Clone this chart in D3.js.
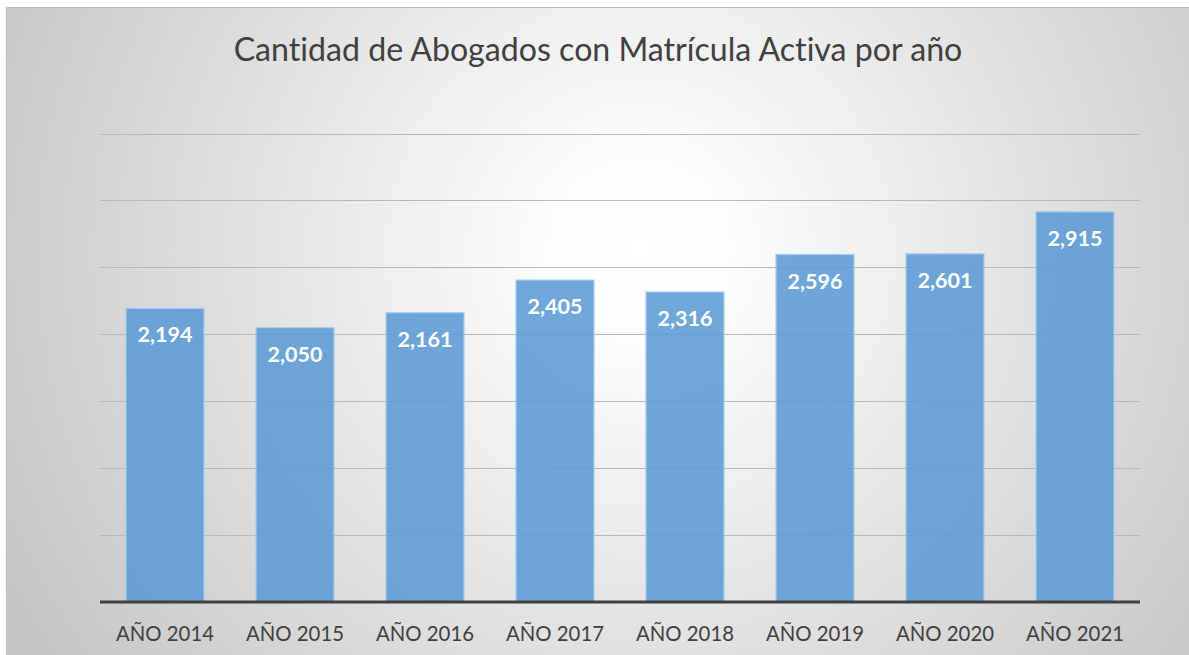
<!DOCTYPE html>
<html>
<head>
<meta charset="utf-8">
<script src="https://cdn.jsdelivr.net/npm/d3@7"></script>
<style>
  html, body { margin: 0; padding: 0; background: #ffffff; }
  svg { display: block; }
  text { font-variant-ligatures: none; font-feature-settings: "liga" 0, "clig" 0; }
</style>
</head>
<body>
<svg id="chart" width="1189" height="655"></svg>
<script>
const title = "Cantidad de Abogados con Matrícula Activa por año";
const categories = ["AÑO 2014", "AÑO 2015", "AÑO 2016", "AÑO 2017", "AÑO 2018", "AÑO 2019", "AÑO 2020", "AÑO 2021"];
const values = [2194, 2050, 2161, 2405, 2316, 2596, 2601, 2915];
const yTicks = [0, 500, 1000, 1500, 2000, 2500, 3000, 3500];

const W = 1189, H = 655;
const svg = d3.select("#chart");
const FONT = "Lato, 'Open Sans', sans-serif";

// background gradient
const defs = svg.append("defs");
const grad = defs.append("radialGradient")
  .attr("id", "bg").attr("gradientUnits", "userSpaceOnUse")
  .attr("cx", 640).attr("cy", 250).attr("r", 720);
grad.append("stop").attr("offset", "0").attr("stop-color", "#ffffff");
grad.append("stop").attr("offset", "0.12").attr("stop-color", "#fdfdfd");
grad.append("stop").attr("offset", "1").attr("stop-color", "#c5c5c5");

svg.append("rect").attr("x", 6).attr("y", 7).attr("width", W - 6).attr("height", H - 7)
  .attr("fill", "url(#bg)");
svg.append("path").attr("d", `M6.5,${H} V7.5 H${W}`).attr("fill", "none")
  .attr("stroke", "#bdbdbd").attr("stroke-width", 1.2);

const x = d3.scaleBand().domain(categories).range([100, 1140]).paddingInner(0.4).paddingOuter(0.2);
const y = d3.scaleLinear().domain([0, 3500]).range([602, 133.5]);

// gridlines
svg.append("g").selectAll("line").data(yTicks.filter(d => d > 0)).join("line")
  .attr("x1", 100).attr("x2", 1140)
  .attr("y1", d => Math.round(y(d)) + 0.5).attr("y2", d => Math.round(y(d)) + 0.5)
  .attr("stroke", "#b8b8b8").attr("stroke-width", 1.2);

// bars
svg.append("g").selectAll("rect").data(values).join("rect")
  .attr("x", (d, i) => x(categories[i]))
  .attr("width", x.bandwidth())
  .attr("y", d => y(d))
  .attr("height", d => y(0) - y(d))
  .attr("fill", "#5b9bd5").attr("fill-opacity", 0.88)
  .attr("stroke", "#a8cbec").attr("stroke-width", 1.2);

// baseline axis
const xAxis = d3.axisBottom(x).tickSize(0).tickPadding(0);
const ax = svg.append("g").attr("transform", `translate(0,${y(0)})`).call(xAxis);
ax.select(".domain").attr("d", "M100,0H1140").attr("stroke", "#404040").attr("stroke-width", 3);
ax.selectAll(".tick text")
  .attr("y", 39).attr("dy", 0)
  .attr("fill", "#404040")
  .style("font-family", FONT).style("font-size", "20px");

function fitWidth(sel, target) {
  const n = sel.node();
  const fs = parseFloat(n.style.fontSize);
  const w = n.getComputedTextLength();
  if (w > 0) sel.style("font-size", (fs * target / w).toFixed(2) + "px");
}
{
  const n = ax.select(".tick text").node();
  const fs = parseFloat(n.style.fontSize);
  const w = n.getComputedTextLength();
  ax.selectAll(".tick text").style("font-size", (fs * 98 / w).toFixed(2) + "px");
}

// data labels
const labels = svg.append("g").selectAll("text").data(values).join("text")
  .attr("x", (d, i) => x(categories[i]) + x.bandwidth() / 2)
  .attr("y", d => y(d) + 34)
  .attr("text-anchor", "middle")
  .attr("fill", "#ffffff")
  .style("font-family", FONT).style("font-weight", "700").style("font-size", "20px")
  .text(d => d3.format(",")(d));
{
  const n = labels.node();
  const fs = parseFloat(n.style.fontSize);
  const w = n.getComputedTextLength();
  labels.style("font-size", (fs * 55 / w).toFixed(2) + "px");
}

// title
const t = svg.append("text").attr("x", 598).attr("y", 61).attr("text-anchor", "middle")
  .attr("fill", "#404040")
  .style("font-family", FONT).style("font-size", "28px")
  .text(title);
fitWidth(t, 729);
</script>
</body>
</html>
